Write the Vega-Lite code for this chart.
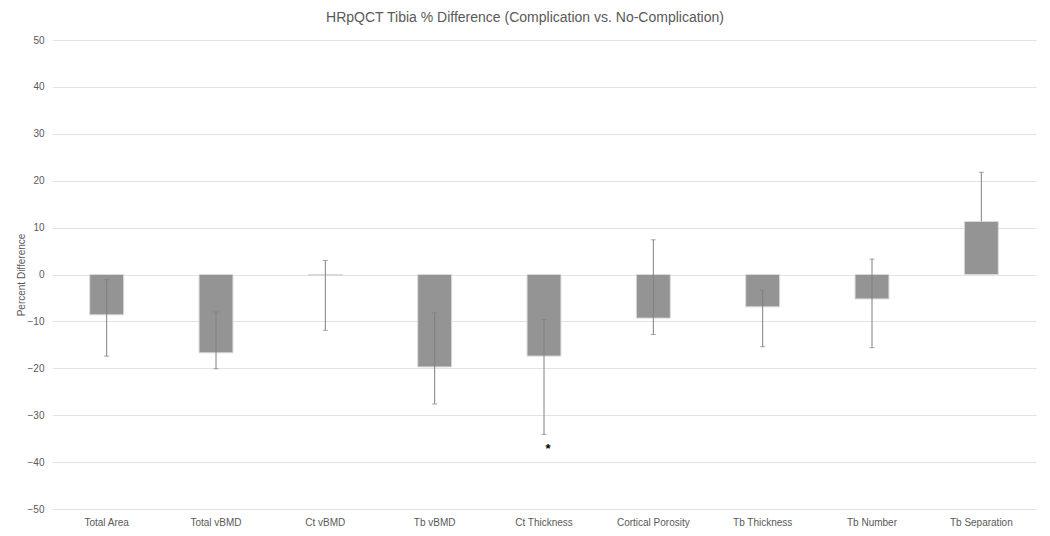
{
  "$schema": "https://vega.github.io/schema/vega-lite/v6.json",
  "autosize": {"type": "none"},
  "width": 984,
  "height": 469,
  "padding": {"left": 52, "top": 40, "right": 14, "bottom": 27},
  "background": "white",
  "title": {
    "text": "HRpQCT Tibia % Difference (Complication vs. No-Complication)",
    "font": "Liberation Sans",
    "fontSize": 14,
    "fontWeight": "normal",
    "color": "#595959",
    "anchor": "middle",
    "offset": 10,
    "dx": -19
  },
  "config": {
    "view": {"stroke": null},
    "axis": {"labelFont": "Liberation Sans", "titleFont": "Liberation Sans"}
  },
  "data": {
    "values": [
      {"measure": "Total Area", "value": -8.6, "lo": -17.4, "hi": -1.1, "sig": null, "sigpos": null},
      {"measure": "Total vBMD", "value": -16.7, "lo": -20.1, "hi": -8.0, "sig": null, "sigpos": null},
      {"measure": "Ct vBMD", "value": -0.2, "lo": -11.9, "hi": 3.0, "sig": null, "sigpos": null},
      {"measure": "Tb vBMD", "value": -19.7, "lo": -27.6, "hi": -8.2, "sig": null, "sigpos": null},
      {"measure": "Ct Thickness", "value": -17.4, "lo": -34.1, "hi": -9.6, "sig": "*", "sigpos": -36.6},
      {"measure": "Cortical Porosity", "value": -9.3, "lo": -12.8, "hi": 7.4, "sig": null, "sigpos": null},
      {"measure": "Tb Thickness", "value": -6.9, "lo": -15.4, "hi": -3.4, "sig": null, "sigpos": null},
      {"measure": "Tb Number", "value": -5.2, "lo": -15.6, "hi": 3.3, "sig": null, "sigpos": null},
      {"measure": "Tb Separation", "value": 11.3, "lo": null, "hi": 21.8, "sig": null, "sigpos": null}
    ]
  },
  "encoding": {
    "x": {
      "field": "measure",
      "type": "nominal",
      "sort": null,
      "scale": {"paddingInner": 0, "paddingOuter": 0},
      "axis": {
        "title": null,
        "labelAngle": 0,
        "labelFontSize": 10,
        "labelColor": "#595959",
        "labelPadding": 8,
        "domain": false,
        "ticks": false
      }
    }
  },
  "layer": [
    {
      "mark": {"type": "bar", "width": {"band": 0.31}, "color": "#949494", "stroke": "#d9d9d9", "strokeWidth": 1},
      "encoding": {
        "y": {
          "field": "value",
          "type": "quantitative",
          "scale": {"domain": [-50, 50], "nice": false, "zero": true},
          "axis": {
            "title": "Percent Difference",
            "titleFontSize": 10,
            "titleFontWeight": "normal",
            "titleColor": "#595959",
            "titlePadding": 1,
            "values": [-50, -40, -30, -20, -10, 0, 10, 20, 30, 40, 50],
            "labelFontSize": 10,
            "labelColor": "#595959",
            "labelPadding": 8,
            "domain": false,
            "ticks": false,
            "grid": true,
            "gridColor": "#e3e3e3",
            "gridWidth": 1
          }
        }
      }
    },
    {
      "mark": {"type": "rule", "color": "#808080", "strokeWidth": 1},
      "encoding": {
        "y": {"field": "hi", "type": "quantitative"},
        "y2": {"field": "value"}
      }
    },
    {
      "transform": [{"filter": "datum.lo != null"}],
      "mark": {"type": "rule", "color": "#808080", "strokeWidth": 1},
      "encoding": {
        "y": {"field": "lo", "type": "quantitative"},
        "y2": {"field": "value"}
      }
    },
    {
      "mark": {"type": "tick", "color": "#808080", "size": 5, "thickness": 1},
      "encoding": {"y": {"field": "hi", "type": "quantitative"}}
    },
    {
      "transform": [{"filter": "datum.lo != null"}],
      "mark": {"type": "tick", "color": "#808080", "size": 5, "thickness": 1},
      "encoding": {"y": {"field": "lo", "type": "quantitative"}}
    },
    {
      "transform": [{"filter": "datum.sig != null"}],
      "mark": {"type": "text", "color": "#000000", "fontSize": 13, "fontWeight": "bold", "baseline": "middle", "dx": 4, "dy": 3, "font": "Liberation Sans"},
      "encoding": {
        "y": {"field": "sigpos", "type": "quantitative"},
        "text": {"field": "sig"}
      }
    }
  ]
}
